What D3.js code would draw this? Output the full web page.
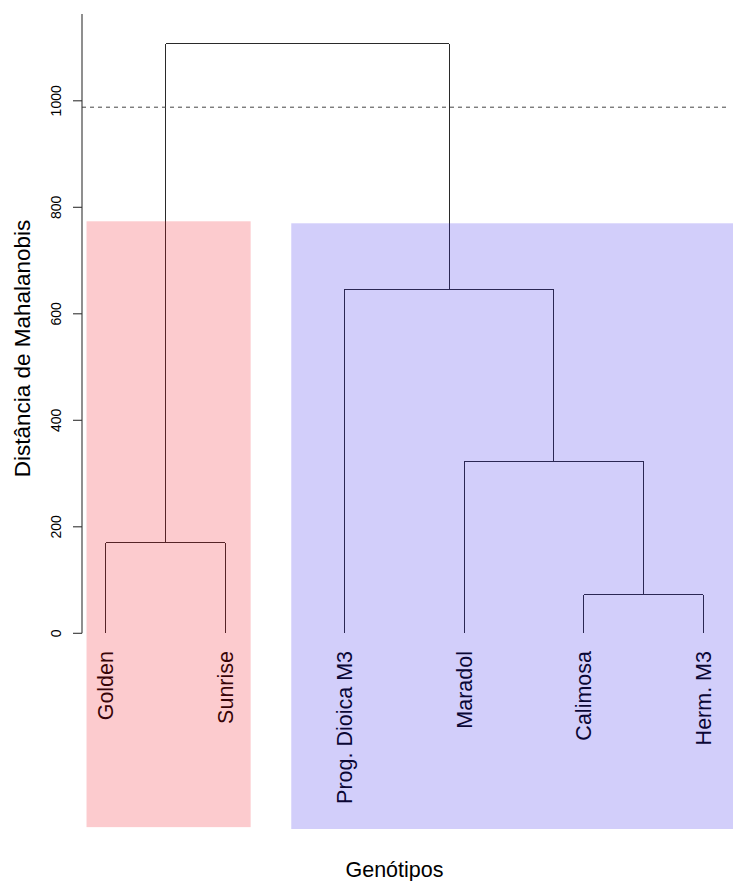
<!DOCTYPE html>
<html>
<head>
<meta charset="utf-8">
<script src="https://cdn.jsdelivr.net/npm/d3@7"></script>
<style>
  html, body { margin: 0; padding: 0; background: #ffffff; }
  svg { display: block; }
  text { font-family: "Liberation Sans", Arial, Helvetica, sans-serif; fill: #000; }
</style>
</head>
<body>
<svg id="chart" width="733" height="881"></svg>
<script>
// Genotype names in leaf order (left to right)
const leafLabels = ["Golden", "Sunrise", "Prog. Dioica M3", "Maradol", "Calimosa", "Herm. M3"];

// hclust-style merge table: negative = leaf (1-based), positive = earlier merge step
const mergeLeft  = [-5, -1, -4, -3, 2];
const mergeRight = [-6, -2,  1,  3, 4];
const mergeHeights = [72.5, 170, 323, 646, 1107];

// Cut height of the tree
const cutHeight = 988;

// Y axis ticks
const yTicks = [0, 200, 400, 600, 800, 1000];

// Highlighted groups: leaf-position span and distance span
const groupNames  = ["Grupo I", "Grupo II"];
const groupX0     = [0.838, 2.552];
const groupX1     = [2.212, 6.40];
const groupTop    = [773.7, 770];
const groupBottom = [-364, -367.5];
const groupFill   = ["rgb(240,20,30)", "rgb(50,30,230)"];

const svg = d3.select("#chart");

const x = d3.scaleLinear().domain([0.8, 6.2]).range([82, 727]);
const y = d3.scaleLinear().domain([0, 1163]).range([633.3, 14]);

// Compute the x position of every merge node (mean of its two children)
const nodeX = [];
function childX(i) { return i < 0 ? -i : nodeX[i - 1]; }
function childH(i) { return i < 0 ? 0 : mergeHeights[i - 1]; }
mergeLeft.forEach((l, k) => {
  nodeX.push((childX(l) + childX(mergeRight[k])) / 2);
});

// Dendrogram segments
const links = [];
mergeLeft.forEach((l, k) => {
  const r = mergeRight[k];
  const h = mergeHeights[k];
  links.push({ x1: childX(l), y1: childH(l), x2: childX(l), y2: h });
  links.push({ x1: childX(l), y1: h, x2: childX(r), y2: h });
  links.push({ x1: childX(r), y1: h, x2: childX(r), y2: childH(r) });
});

const tree = svg.append("g");
tree.selectAll("line.branch")
  .data(links)
  .join("line")
  .attr("class", "branch")
  .attr("x1", d => x(d.x1)).attr("y1", d => y(d.y1))
  .attr("x2", d => x(d.x2)).attr("y2", d => y(d.y2))
  .attr("stroke", "#2a2a2a")
  .attr("stroke-width", 1.1)
  .attr("shape-rendering", "crispEdges");

// Leaf labels, rotated, reading bottom-to-top
tree.selectAll("text.leaf")
  .data(leafLabels)
  .join("text")
  .attr("class", "leaf")
  .attr("transform", (d, i) => `translate(${x(i + 1) + 7.5},651) rotate(-90)`)
  .attr("text-anchor", "end")
  .style("font-size", "21.5px")
  .text(d => d);

// Cut line
svg.append("line")
  .attr("x1", x(0.8)).attr("x2", x(6.2))
  .attr("y1", y(cutHeight)).attr("y2", y(cutHeight))
  .attr("stroke", "#444")
  .attr("stroke-width", 1)
  .attr("stroke-dasharray", "4,4");

// Translucent group boxes laid over the tree
svg.selectAll("rect.group")
  .data(groupNames)
  .join("rect")
  .attr("class", "group")
  .attr("x", (d, i) => x(groupX0[i]))
  .attr("width", (d, i) => x(groupX1[i]) - x(groupX0[i]))
  .attr("y", (d, i) => y(groupTop[i]))
  .attr("height", (d, i) => y(groupBottom[i]) - y(groupTop[i]))
  .attr("fill", (d, i) => groupFill[i])
  .attr("fill-opacity", 0.22);

// Y axis
const axisG = svg.append("g").attr("transform", "translate(82,0)");
axisG.append("line")
  .attr("x1", 0).attr("x2", 0)
  .attr("y1", y(1163)).attr("y2", y(0))
  .attr("stroke", "#333").attr("stroke-width", 1.1);
axisG.selectAll("line.tick")
  .data(yTicks)
  .join("line")
  .attr("class", "tick")
  .attr("x1", -9).attr("x2", 0)
  .attr("y1", d => y(d)).attr("y2", d => y(d))
  .attr("stroke", "#333").attr("stroke-width", 1.1);
axisG.selectAll("text.ticklabel")
  .data(yTicks)
  .join("text")
  .attr("class", "ticklabel")
  .attr("transform", d => `translate(-21,${y(d)}) rotate(-90)`)
  .attr("text-anchor", "middle")
  .style("font-size", "14px")
  .text(d => d);

// Axis titles
svg.append("text")
  .attr("transform", "translate(30,348.5) rotate(-90)")
  .attr("text-anchor", "middle")
  .style("font-size", "22.5px")
  .text("Distância de Mahalanobis");

svg.append("text")
  .attr("x", 394.5).attr("y", 876.5)
  .attr("text-anchor", "middle")
  .style("font-size", "21.5px")
  .text("Genótipos");
</script>
</body>
</html>
